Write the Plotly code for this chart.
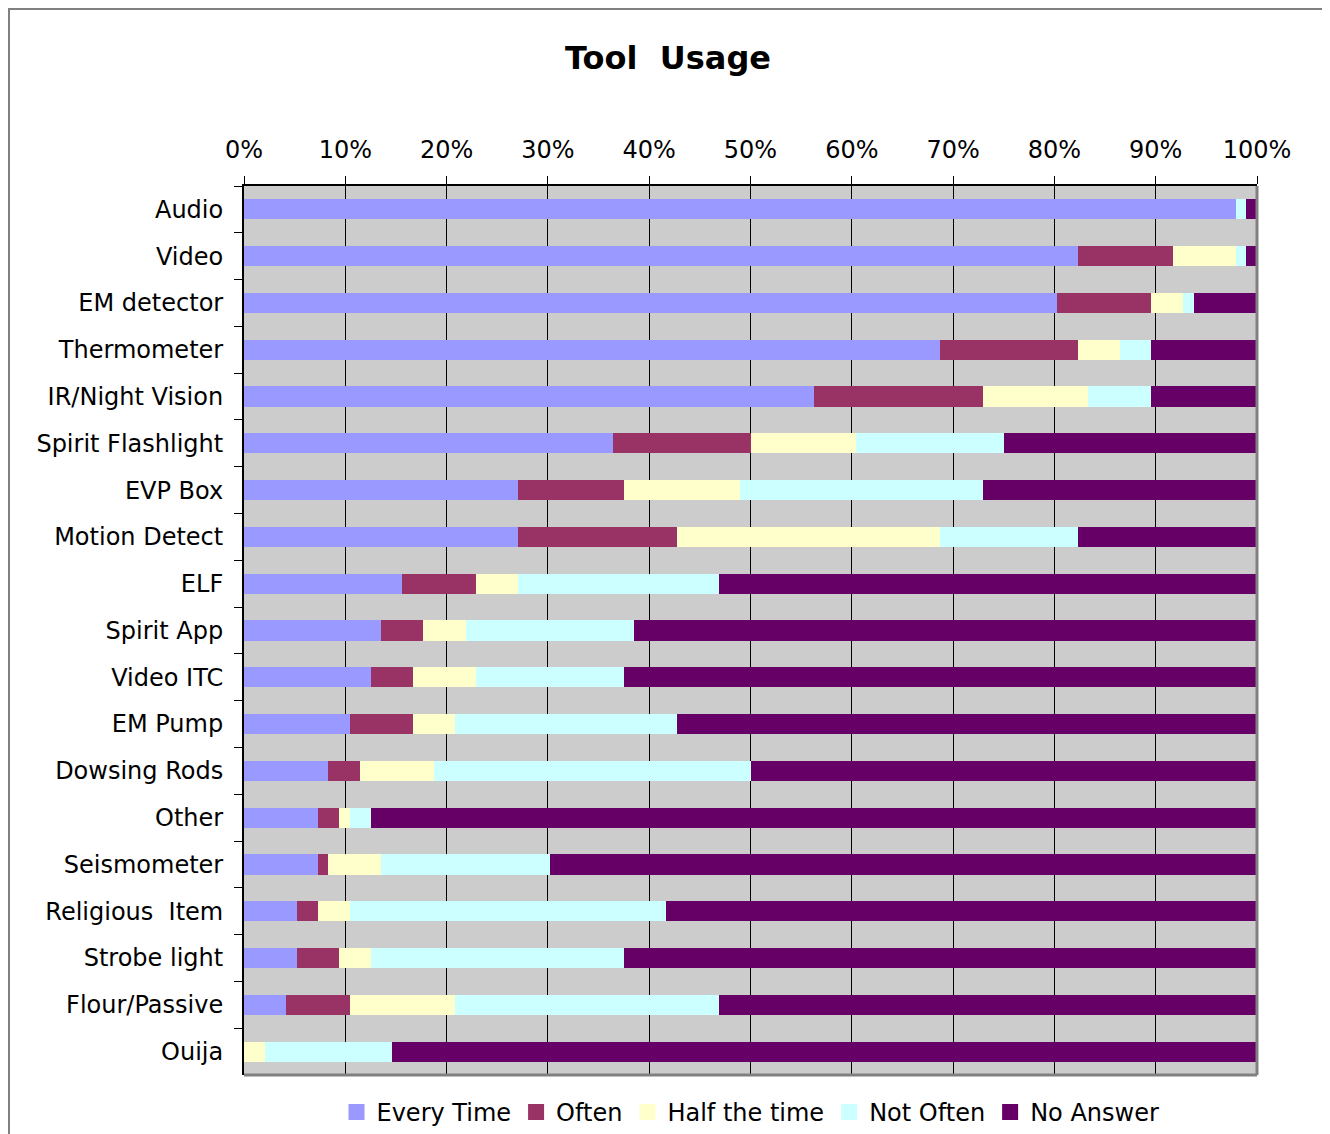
import plotly.graph_objects as go

# survey responses (96 respondents)
tools = ['Audio', 'Video', 'EM detector', 'Thermometer', 'IR/Night Vision',
         'Spirit Flashlight', 'EVP Box', 'Motion Detect', 'ELF', 'Spirit App',
         'Video ITC', 'EM Pump', 'Dowsing Rods', 'Other', 'Seismometer',
         'Religious  Item', 'Strobe light', 'Flour/Passive', 'Ouija']

every_time = [94, 79, 77, 66, 54, 35, 26, 26, 15, 13, 12, 10, 8, 7, 7, 5, 5, 4, 0]
often      = [0, 9, 9, 13, 16, 13, 10, 15, 7, 4, 4, 6, 3, 2, 1, 2, 4, 6, 0]
half_time  = [0, 6, 3, 4, 10, 10, 11, 25, 4, 4, 6, 4, 7, 1, 5, 3, 3, 10, 2]
not_often  = [1, 1, 1, 3, 6, 14, 23, 13, 19, 16, 14, 21, 30, 2, 16, 30, 24, 25, 12]
no_answer  = [1, 1, 6, 10, 10, 24, 26, 17, 51, 59, 60, 55, 48, 84, 67, 56, 60, 51, 82]

series = [('Every Time', every_time, '#9999FF'),
          ('Often', often, '#993366'),
          ('Half the time', half_time, '#FFFFCC'),
          ('Not Often', not_often, '#CCFFFF'),
          ('No Answer', no_answer, '#660066')]

labels = [t.replace('  ', '\u00a0 ') for t in tools]

fig = go.Figure()
for name, vals, col in series:
    fig.add_trace(go.Bar(y=labels, x=vals, name=name, orientation='h', showlegend=False,
                         marker=dict(color=col, line=dict(width=0))))
# bigger square legend keys
for name, vals, col in series:
    fig.add_trace(go.Scatter(x=[None], y=[None], mode='markers', name=name,
                             marker=dict(symbol='square', size=16, color=col)))

# page body has an 8px margin; margins are set so the plot lands where it should
fig.update_layout(
    barmode='stack', barnorm='percent', bargap=0.57,
    width=1330, height=1134,
    margin=dict(l=236, r=81, t=178, b=67, autoexpand=False),
    paper_bgcolor='white', plot_bgcolor='#CCCCCC',
    font=dict(family='DejaVu Sans', size=24, color='black'),
    title=dict(text='<b>Tool\u00a0 Usage</b>', x=(668 - 8) / 1330, xanchor='center',
               y=1 - 50 / 1134, yanchor='middle', font=dict(size=32)),
    legend=dict(orientation='h', x=0.5, xanchor='center', y=-0.042, yanchor='middle',
                font=dict(size=24), traceorder='normal', itemwidth=30),
    showlegend=True,
)

fig.update_xaxes(side='top', range=[0, 100], dtick=10, ticksuffix='%',
                 showgrid=True, gridcolor='black', gridwidth=1,
                 showline=True, linecolor='black', linewidth=2,
                 ticks='outside', ticklen=8, tickcolor='black',
                 ticklabelstandoff=8, zeroline=False)
fig.update_yaxes(autorange='reversed', showgrid=False,
                 showline=True, linecolor='black', linewidth=2,
                 ticks='outside', ticklen=8, tickcolor='black', tickson='boundaries',
                 ticklabelstandoff=14)

# gray frame on right/bottom of plot area and the outer chart border
fig.add_shape(type='line', xref='paper', yref='paper', x0=1, x1=1, y0=0, y1=1,
              line=dict(color='#808080', width=3))
fig.add_shape(type='line', xref='paper', yref='paper', x0=0, x1=1, y0=0, y1=0,
              line=dict(color='#808080', width=3))
fig.add_shape(type='rect', xref='paper', yref='paper',
              x0=-235 / 1013, x1=1.1, y0=-0.1, y1=1066 / 889,
              line=dict(color='#808080', width=2), layer='below')

fig.write_html('out.html')
